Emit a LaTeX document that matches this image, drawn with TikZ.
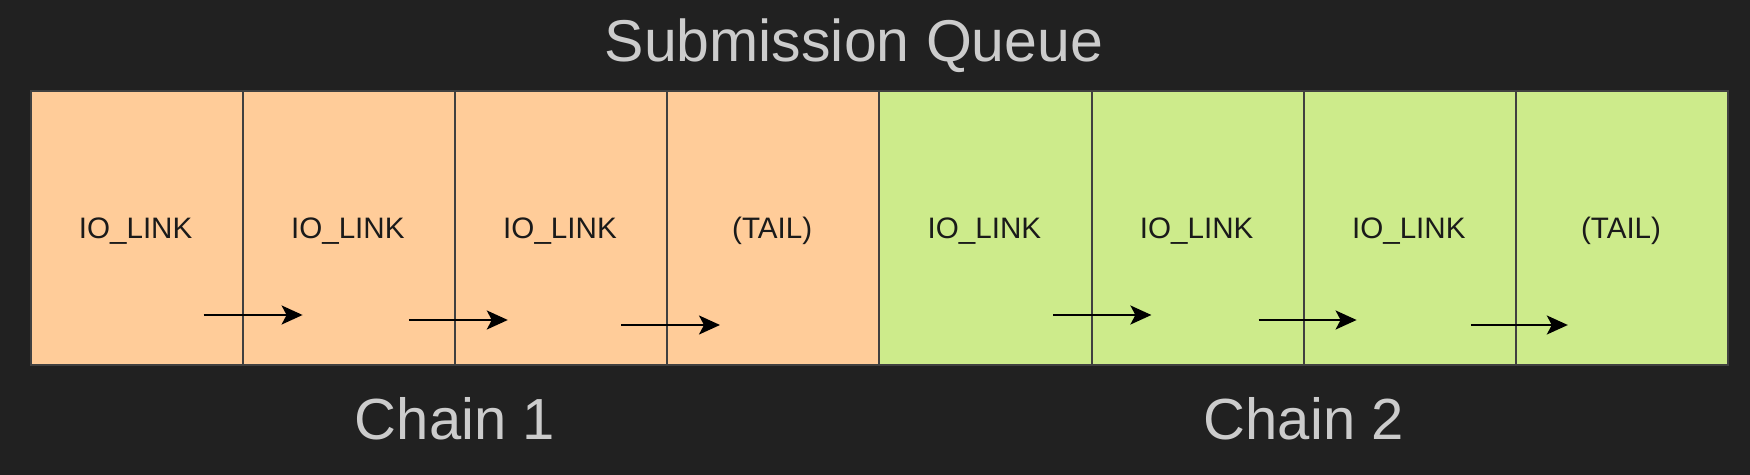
\documentclass[tikz,border=0pt]{standalone}
\usepackage{fontspec}
\setmainfont{Liberation Sans}
\usetikzlibrary{arrows.meta,calc}
\definecolor{bg}{HTML}{212121}
\definecolor{orangefill}{HTML}{FFCC99}
\definecolor{greenfill}{HTML}{CDEB8B}
\definecolor{cellline}{HTML}{404040}
\definecolor{titlegray}{HTML}{CCCCCC}
\definecolor{celltextc}{HTML}{1A1A1A}
\begin{document}
\begin{tikzpicture}[x=0.5pt,y=-0.5pt,
  cell/.style={draw=cellline, line width=1pt, minimum width=106.1pt, minimum height=137pt, inner sep=0pt, anchor=north west},
  celltext/.style={anchor=base, inner sep=0pt, text=celltextc, font=\fontsize{14.8pt}{18pt}\selectfont},
  bigtext/.style={anchor=base, inner sep=0pt, text=titlegray, font=\fontsize{29.5pt}{34pt}\selectfont},
  linkarrow/.style={draw=black, line width=1.1pt, -{Stealth[length=10.5pt,width=9.5pt,inset=2.5pt]}}
]
\fill[bg] (0,0) rectangle (1750,475);
\useasboundingbox (0,0) rectangle (1750,475);

\foreach \i/\fc/\txt in {0/orangefill/IO\_LINK,1/orangefill/IO\_LINK,2/orangefill/IO\_LINK,3/orangefill/(TAIL),
                         4/greenfill/IO\_LINK,5/greenfill/IO\_LINK,6/greenfill/IO\_LINK,7/greenfill/(TAIL)}{
  \pgfmathsetmacro{\xx}{29.5+212.2*\i}
  \node[cell, fill=\fc] (c\i) at (\xx,90) {};
  \node[celltext] (t\i) at ($(c\i.north)+(-1,149)$) {\txt};
}

% arrows
\foreach \i/\s/\e/\dy in {0/67/166/225, 1/60/159/230, 2/60/159/235,
                          4/68/166/225, 5/61/159/230, 6/61/158/235}{
  \coordinate (s\i) at ($(c\i.north)+(\s,\dy)$);
  \coordinate (e\i) at ($(c\i.north)+(\e,\dy)$);
  \draw[linkarrow] (s\i) -- (e\i);
}

\node[bigtext] (title) at (854,62) {Submission Queue};
\node[bigtext, font=\fontsize{29pt}{34pt}\selectfont] (chain1) at ($(c0.north west)!0.5!(c3.north east)+(0,349)$) {Chain 1};
\node[bigtext, font=\fontsize{29pt}{34pt}\selectfont] (chain2) at ($(c4.north west)!0.5!(c7.north east)+(0,349)$) {Chain 2};
\end{tikzpicture}
\end{document}
